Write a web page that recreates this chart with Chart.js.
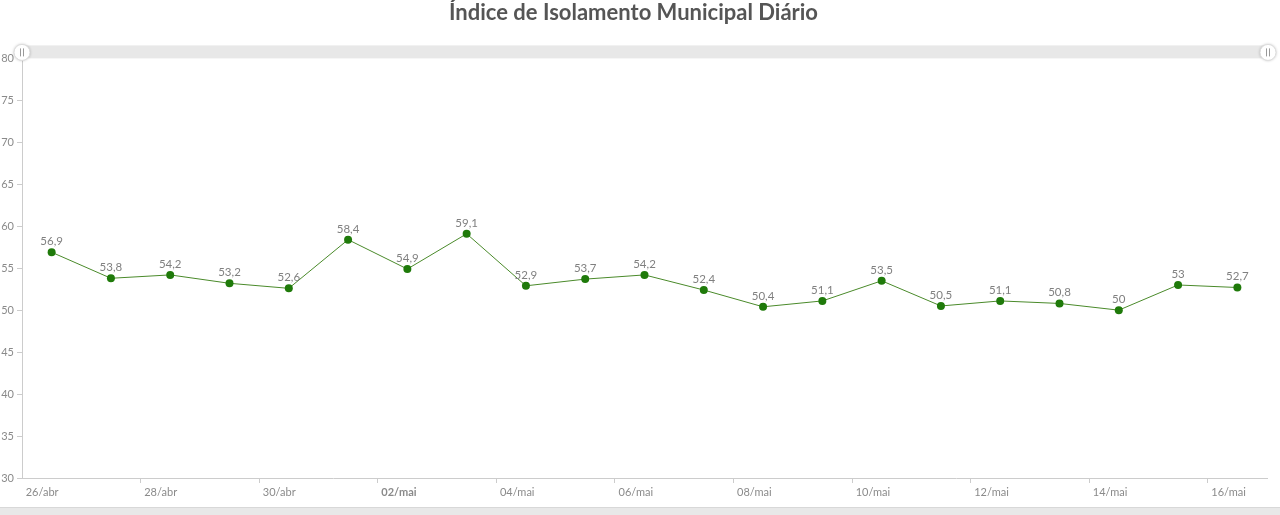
<!DOCTYPE html>
<html>
<head>
<meta charset="utf-8">
<script src="https://cdn.jsdelivr.net/npm/chart.js@4"></script>
<style>
  html, body { margin: 0; padding: 0; background: #fff; }
  #wrap { width: 1280px; height: 515px; position: relative; }
</style>
</head>
<body>
<div id="wrap"><canvas id="isolamento"></canvas></div>
<script>
// dias (26/abr a 16/mai)
var dias = ["26/abr", "27/abr", "28/abr", "29/abr", "30/abr", "01/mai", "02/mai",
            "03/mai", "04/mai", "05/mai", "06/mai", "07/mai", "08/mai", "09/mai",
            "10/mai", "11/mai", "12/mai", "13/mai", "14/mai", "15/mai", "16/mai"];
// índice de isolamento (%)
var indice = [56.9, 53.8, 54.2, 53.2, 52.6, 58.4, 54.9, 59.1, 52.9, 53.7, 54.2,
              52.4, 50.4, 51.1, 53.5, 50.5, 51.1, 50.8, 50, 53, 52.7];
// eixo y
var yMin = 30, yMax = 80, yStep = 5;

var cinza = "#8a8a8a";
var verde = "#1f7a0a";

// rótulos de valor acima dos pontos
var rotulos = {
    id: "rotulos",
    afterDatasetsDraw: function (chart) {
        var ctx = chart.ctx;
        var meta = chart.getDatasetMeta(0);
        ctx.save();
        ctx.font = "11.5px Lato";
        ctx.fillStyle = "#808080";
        ctx.textAlign = "center";
        ctx.textBaseline = "bottom";
        meta.data.forEach(function (pt, i) {
            var txt = String(indice[i]).replace(".", ",");
            ctx.fillText(txt, pt.x, pt.y - 5);
        });
        ctx.restore();
    }
};

// barras de rolagem (enfeite do amCharts)
var rolagem = {
    id: "rolagem",
    beforeDraw: function (chart) {
        var ctx = chart.ctx, a = chart.chartArea;
        ctx.save();
        ctx.fillStyle = "#e8e8e8";
        ctx.fillRect(a.left, a.top - 13, a.right - a.left + 1, 13);
        ctx.fillRect(0, chart.height - 8, chart.width, 8);
        ctx.fillStyle = "#d8d8d8";
        ctx.fillRect(0, chart.height - 8, chart.width, 1);
        ctx.restore();
    },
    afterDraw: function (chart) {
        var ctx = chart.ctx, a = chart.chartArea;
        ctx.save();
        [a.left, a.right + 1].forEach(function (x) {
            ctx.beginPath();
            ctx.arc(x, a.top - 6, 8, 0, Math.PI * 2);
            ctx.fillStyle = "#fff";
            ctx.shadowColor = "rgba(0,0,0,0.3)";
            ctx.shadowBlur = 3;
            ctx.fill();
            ctx.shadowBlur = 0;
            ctx.strokeStyle = "#dddddd";
            ctx.lineWidth = 1;
            ctx.stroke();
            ctx.strokeStyle = "#999";
            ctx.beginPath();
            ctx.moveTo(x - 1.5, a.top - 10); ctx.lineTo(x - 1.5, a.top - 2);
            ctx.moveTo(x + 1.5, a.top - 10); ctx.lineTo(x + 1.5, a.top - 2);
            ctx.stroke();
        });
        ctx.restore();
    }
};

var ctx = document.getElementById("isolamento").getContext("2d");
var isolamentoChart = new Chart(ctx, {
    type: "line",
    data: {
        labels: dias,
        datasets: [
            {
                data: indice,
                borderColor: "#4a8a2a",
                borderWidth: 1,
                pointRadius: 4,
                pointBackgroundColor: verde,
                pointBorderColor: verde,
                pointBorderWidth: 0,
                tension: 0,
                fill: false
            }
        ]
    },
    options: {
        responsive: true,
        maintainAspectRatio: false,
        animation: false,
        layout: { padding: { left: 0, right: 13, top: 0, bottom: 0 } },
        plugins: {
            legend: { display: false },
            tooltip: { enabled: false },
            title: {
                display: true,
                text: "Índice de Isolamento Municipal Diário",
                color: "#555555",
                font: { family: "Lato", size: 22, weight: "bold" },
                padding: { top: 0, bottom: 32 }
            }
        },
        scales: {
            x: {
                type: "category",
                offset: true,
                afterFit: function (axis) { axis.height = 37; },
                border: { color: "#cccccc" },
                grid: {
                    offset: true,
                    drawOnChartArea: false,
                    tickLength: 5,
                    color: function (c) { return (c.index % 2 === 0 && c.index > 0) ? "#cccccc" : "rgba(0,0,0,0)"; }
                },
                ticks: {
                    autoSkip: false,
                    maxRotation: 0,
                    align: "start",
                    labelOffset: -26,
                    padding: 3,
                    color: cinza,
                    font: function (c) {
                        return { family: "Lato", size: 11, weight: c.index === 6 ? "bold" : "normal" };
                    },
                    callback: function (v, i) { return i % 2 === 0 ? dias[i] : ""; }
                }
            },
            y: {
                min: yMin,
                max: yMax,
                afterFit: function (axis) { axis.width = 22; },
                border: { color: "#cccccc" },
                grid: {
                    drawOnChartArea: false,
                    tickLength: 5,
                    color: "#cccccc"
                },
                ticks: {
                    stepSize: yStep,
                    padding: 3,
                    color: cinza,
                    font: { family: "Lato", size: 11 }
                }
            }
        }
    },
    plugins: [rotulos, rolagem]
});
</script>
</body>
</html>
